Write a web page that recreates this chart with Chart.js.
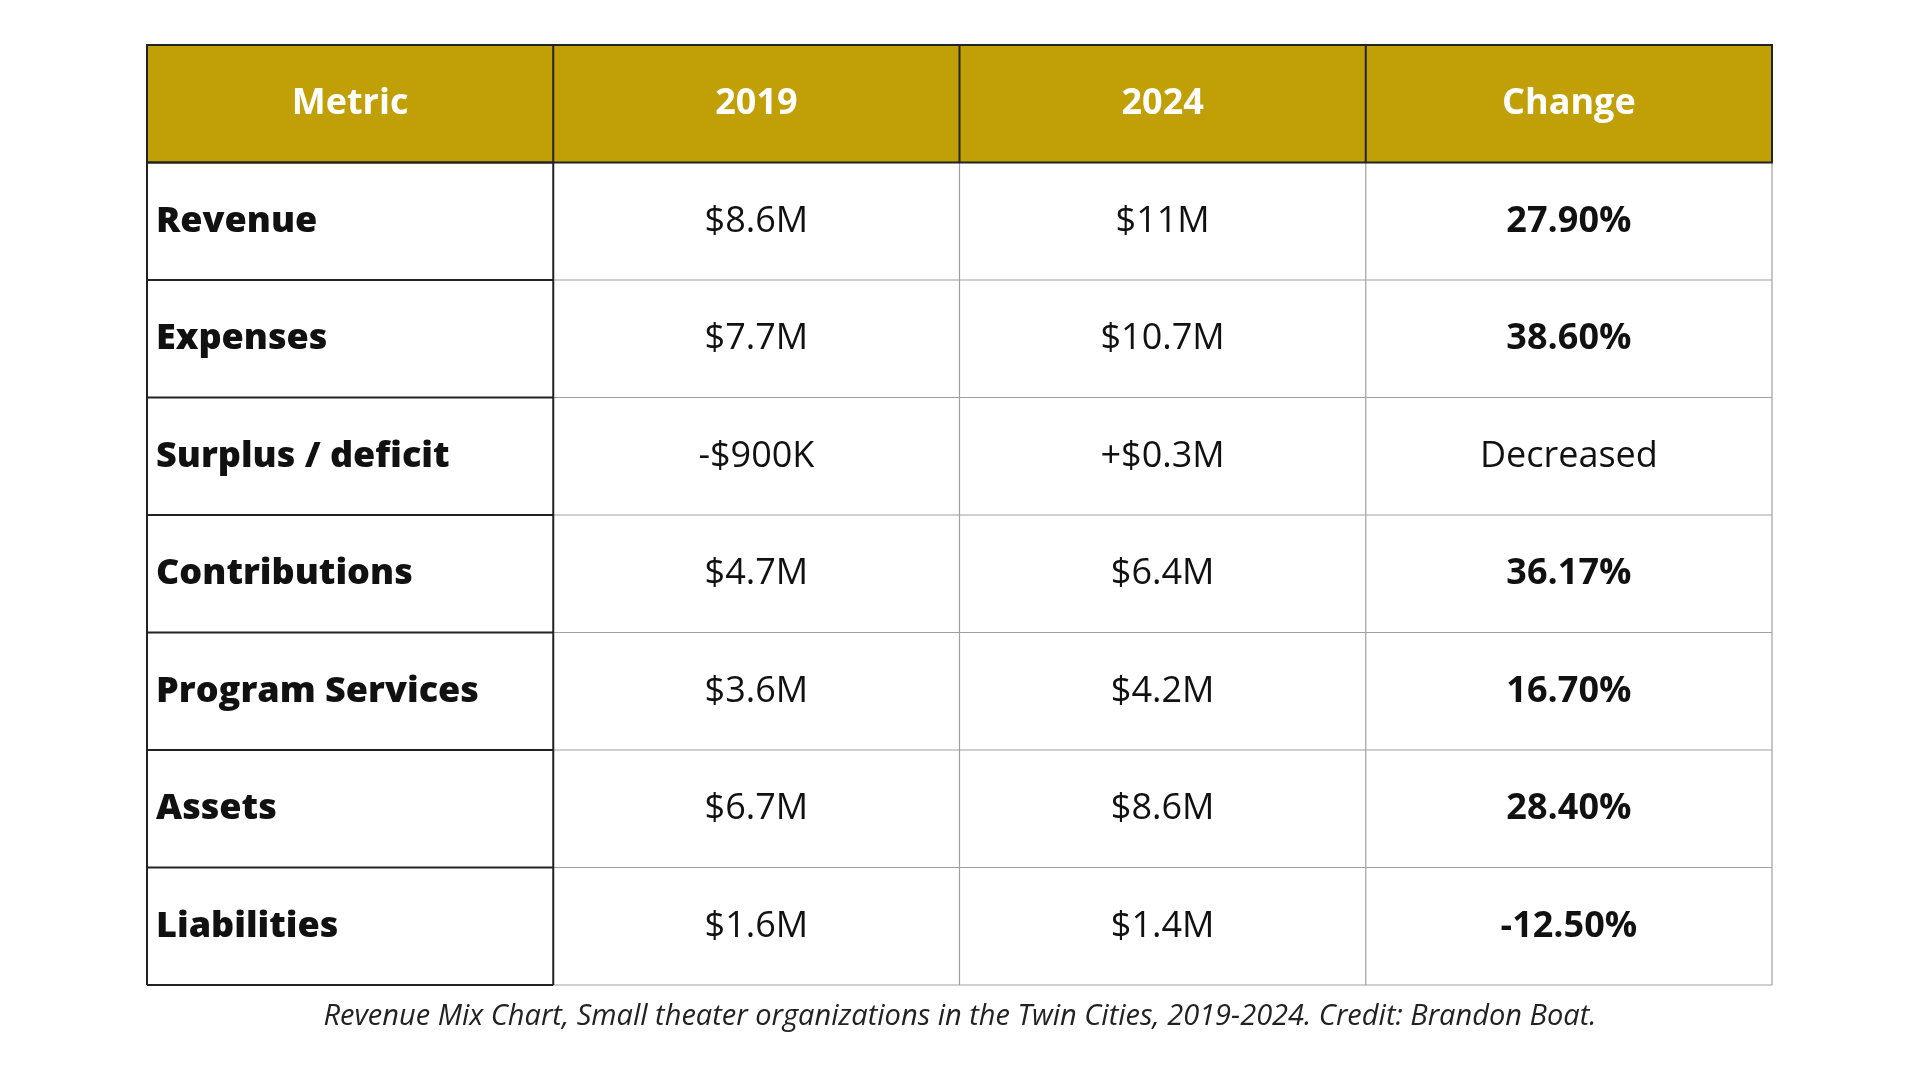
<!DOCTYPE html>
<html>
<head>
<meta charset="utf-8">
<script src="https://cdn.jsdelivr.net/npm/chart.js@4/dist/chart.umd.min.js"></script>
<style>
  html, body { margin: 0; padding: 0; background: #fff; }
  #wrap { width: 1920px; height: 1080px; position: relative; }
</style>
</head>
<body>
<div id="wrap"><canvas id="tbl" width="1920" height="1080"></canvas></div>
<script>
// table content
const headers = ["Metric", "2019", "2024", "Change"];
const metrics = ["Revenue", "Expenses", "Surplus / deficit", "Contributions", "Program Services", "Assets", "Liabilities"];
const values2019 = ["$8.6M", "$7.7M", "-$900K", "$4.7M", "$3.6M", "$6.7M", "$1.6M"];
const values2024 = ["$11M", "$10.7M", "+$0.3M", "$6.4M", "$4.2M", "$8.6M", "$1.4M"];
const changes = ["27.90%", "38.60%", "Decreased", "36.17%", "16.70%", "28.40%", "-12.50%"];
const caption = "Revenue Mix Chart, Small theater organizations in the Twin Cities, 2019-2024. Credit: Brandon Boat.";

const columns = [metrics, values2019, values2024, changes];
const FONT = "'Open Sans', 'Noto Sans', sans-serif";
const GOLD = "#c0a006";

// one point per cell, at its centre (x = column + 0.5, y = row + 0.5; header is row 0)
const datasets = columns.map((col, c) => ({
  data: [{ x: c + 0.5, y: 0.5, label: headers[c] }]
    .concat(col.map((t, r) => ({ x: c + 0.5, y: r + 1.5, label: t }))),
  pointRadius: 0
}));

const tablePlugin = {
  id: "table",
  beforeDatasetsDraw(chart) {
    const ctx = chart.ctx, xs = chart.scales.x, ys = chart.scales.y;
    const nRows = metrics.length + 1;
    const X = i => xs.getPixelForValue(i), Y = j => ys.getPixelForValue(j);
    ctx.save();
    // header fill
    ctx.fillStyle = GOLD;
    ctx.fillRect(X(0), Y(0), X(4) - X(0), Y(1) - Y(0));
    // light grid for data columns
    ctx.strokeStyle = "#a0a0a0"; ctx.lineWidth = 1.2;
    for (let j = 2; j <= nRows; j++) {
      ctx.beginPath(); ctx.moveTo(X(1), Y(j)); ctx.lineTo(X(4), Y(j)); ctx.stroke();
    }
    for (let i = 2; i <= 4; i++) {
      ctx.beginPath(); ctx.moveTo(X(i), Y(1)); ctx.lineTo(X(i), Y(nRows)); ctx.stroke();
    }
    // dark lines: header box and metric column
    ctx.strokeStyle = "#222"; ctx.lineWidth = 2;
    ctx.strokeRect(X(0), Y(0), X(4) - X(0), Y(1) - Y(0));
    for (let i = 1; i <= 3; i++) {
      ctx.beginPath(); ctx.moveTo(X(i), Y(0)); ctx.lineTo(X(i), Y(1)); ctx.stroke();
    }
    for (let j = 1; j <= nRows; j++) {
      ctx.beginPath(); ctx.moveTo(X(0), Y(j)); ctx.lineTo(X(1), Y(j)); ctx.stroke();
    }
    ctx.beginPath(); ctx.moveTo(X(0), Y(1)); ctx.lineTo(X(0), Y(nRows)); ctx.stroke();
    ctx.beginPath(); ctx.moveTo(X(1), Y(1)); ctx.lineTo(X(1), Y(nRows)); ctx.stroke();
    ctx.restore();
  },
  afterDatasetsDraw(chart) {
    const ctx = chart.ctx;
    ctx.save();
    ctx.textBaseline = "middle";
    chart.data.datasets.forEach((ds, c) => {
      const meta = chart.getDatasetMeta(c);
      meta.data.forEach((pt, r) => {
        const text = ds.data[r].label;
        let weight = "400", color = "#111";
        if (r === 0) { weight = "700"; color = "#fff"; }
        else if (c === 0) weight = "800";
        else if (c === 3 && text !== "Decreased") weight = "700";
        ctx.font = weight + " 36px " + FONT;
        ctx.fillStyle = color;
        if (c === 0 && r > 0) {
          ctx.textAlign = "left";
          ctx.fillText(text, chart.scales.x.getPixelForValue(0) + 9, pt.y);
        } else {
          ctx.textAlign = "center";
          ctx.fillText(text, pt.x, pt.y);
        }
      });
    });
    // caption
    ctx.font = "italic 400 29px " + FONT;
    ctx.fillStyle = "#222";
    ctx.textAlign = "center";
    ctx.fillText(caption, 960, 1017);
    ctx.restore();
  }
};

new Chart(document.getElementById("tbl"), {
  type: "scatter",
  data: { datasets },
  options: {
    responsive: false,
    animation: false,
    layout: { padding: { left: 147, right: 148, top: 45, bottom: 95 } },
    plugins: { legend: { display: false }, tooltip: { enabled: false } },
    scales: {
      x: { type: "linear", min: 0, max: 4, display: false },
      y: { type: "linear", min: 0, max: 8, reverse: true, display: false }
    }
  },
  plugins: [tablePlugin]
});
</script>
</body>
</html>
